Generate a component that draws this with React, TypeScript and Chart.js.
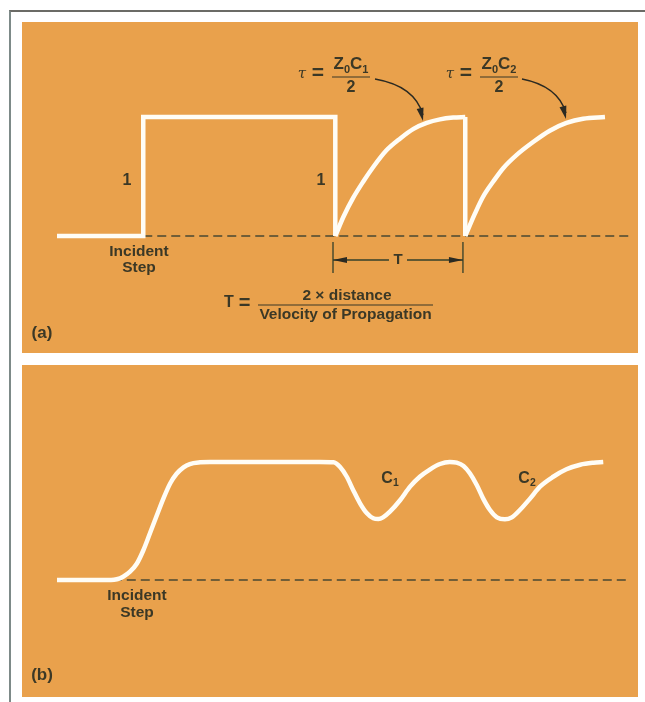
import React, { useEffect, useRef } from "react";
import { Chart, registerables } from "chart.js";

Chart.register(...registerables);

// ---------- Data: panel (a) — incident step and reflections (time 0..100, level 0..1)
const stepX = [0, 15, 15, 48.4, 48.4];
const stepY = [0, 0, 1, 1, 0];
const charge1X = [48.4, 49.8, 51.5, 53.3, 55.0, 57.3, 59.7, 62.0, 64.3, 66.6, 68.9, 71.0];
const charge1Y = [0, 0.16, 0.32, 0.46, 0.58, 0.72, 0.82, 0.9, 0.95, 0.98, 0.995, 1.0];
const drop2X = [71.0, 71.0];
const drop2Y = [1, 0];
const charge2X = [71.0, 72.7, 74.1, 75.9, 77.6, 79.9, 82.8, 85.7, 88.6, 91.5, 95.3];
const charge2Y = [0, 0.19, 0.33, 0.46, 0.57, 0.68, 0.79, 0.885, 0.95, 0.986, 1.0];
const baseAX = [15, 100];
const baseAY = [0, 0];
const tMarks = [48.0, 70.6];

// ---------- Data: panel (b) — TDR display
const tdrX = [
  0, 9.4, 10.4, 11.5, 12.7, 13.9, 15.0, 16.2, 17.3, 18.5, 19.7, 20.8, 22.0, 23.1, 24.9, 26.6,
  45.7, 48.1, 49.2, 50.4, 51.5, 52.7, 53.9, 55.0, 55.9, 56.7, 57.9, 59.7, 61.4, 63.1, 64.9, 66.6, 68.3,
  69.5, 70.7, 71.8, 73.0, 74.1, 75.3, 76.5, 77.9, 79.1, 80.5, 82.3, 84.0, 86.3, 88.6, 91.0, 93.3, 95.0,
];
const tdrY = [
  0, 0, 0.006, 0.028, 0.07, 0.14, 0.25, 0.4, 0.54, 0.69, 0.82, 0.9, 0.955, 0.983, 0.997, 1.0,
  1.0, 0.998, 0.96, 0.875, 0.763, 0.65, 0.565, 0.523, 0.517, 0.531, 0.579, 0.678, 0.791, 0.875, 0.938, 0.983, 1.0,
  0.994, 0.966, 0.904, 0.805, 0.692, 0.593, 0.531, 0.514, 0.531, 0.593, 0.692, 0.791, 0.875, 0.938, 0.977, 0.994, 1.0,
];
const baseBX = [9.7, 99.7];
const baseBY = [0, 0];

const FONT = '"Liberation Sans", Arial, sans-serif';
const INK = "#3b3826";
const ORANGE = "#e9a14c";
const WHITE = "#fffdf6";

const pts = (xs: number[], ys: number[]) => xs.map((x, i) => ({ x, y: ys[i] }));

function txt(ctx: CanvasRenderingContext2D, s: string, x: number, y: number, size: number, align: CanvasTextAlign = "center", weight = "bold", maxW?: number) {
  ctx.font = `${weight} ${size}px ${FONT}`;
  ctx.textAlign = align;
  ctx.textBaseline = "middle";
  ctx.fillStyle = INK;
  if (maxW) ctx.fillText(s, x, y, maxW);
  else ctx.fillText(s, x, y);
}

function rich(ctx: CanvasRenderingContext2D, parts: { t: string; sub?: boolean }[], cx: number, cy: number, size: number) {
  const subSize = size * 0.65;
  let total = 0;
  const ws: number[] = [];
  for (const p of parts) {
    ctx.font = `bold ${p.sub ? subSize : size}px ${FONT}`;
    const w = ctx.measureText(p.t).width;
    ws.push(w);
    total += w;
  }
  let x = cx - total / 2;
  const base = cy + size * 0.36;
  ctx.textAlign = "left";
  ctx.textBaseline = "alphabetic";
  ctx.fillStyle = INK;
  parts.forEach((p, i) => {
    ctx.font = `bold ${p.sub ? subSize : size}px ${FONT}`;
    ctx.fillText(p.t, x, p.sub ? base + size * 0.2 : base);
    x += ws[i];
  });
}

function head(ctx: CanvasRenderingContext2D, x: number, y: number, ang: number, len: number, half: number) {
  ctx.beginPath();
  ctx.moveTo(x, y);
  ctx.lineTo(x - len * Math.cos(ang) + half * Math.sin(ang), y - len * Math.sin(ang) - half * Math.cos(ang));
  ctx.lineTo(x - len * Math.cos(ang) - half * Math.sin(ang), y - len * Math.sin(ang) + half * Math.cos(ang));
  ctx.closePath();
  ctx.fill();
}

function curvedArrow(ctx: CanvasRenderingContext2D, sx: number, sy: number, cx: number, cy: number, ex: number, ey: number) {
  ctx.strokeStyle = "#2b2a22";
  ctx.fillStyle = "#2b2a22";
  ctx.lineWidth = 1.4;
  ctx.beginPath();
  ctx.moveTo(sx, sy);
  ctx.quadraticCurveTo(cx, cy, ex, ey - 6);
  ctx.stroke();
  head(ctx, ex, ey, Math.atan2(ey - cy, ex - cx), 13, 3.5);
}

function tauLabel(ctx: CanvasRenderingContext2D, x: number, y: number, sub: string) {
  ctx.font = `italic 15px "DejaVu Serif", serif`;
  ctx.textAlign = "center";
  ctx.textBaseline = "middle";
  ctx.fillStyle = INK;
  ctx.fillText("τ", x, y + 1);
  txt(ctx, "=", x + 16, y, 21);
  const fx = x + 49;
  rich(ctx, [{ t: "Z" }, { t: "0", sub: true }, { t: "C" }, { t: sub, sub: true }], fx, y - 10, 17);
  ctx.strokeStyle = INK;
  ctx.lineWidth = 1.2;
  ctx.beginPath();
  ctx.moveTo(fx - 19, y + 4);
  ctx.lineTo(fx + 19, y + 4);
  ctx.stroke();
  txt(ctx, "2", fx, y + 15, 16);
}

const bgPlugin = {
  id: "bg",
  beforeDraw(chart: any) {
    const c = chart.ctx;
    c.save();
    c.fillStyle = ORANGE;
    c.fillRect(0, 0, chart.width, chart.height);
    c.restore();
  },
};

const annotA = {
  id: "annotA",
  afterDraw(chart: any) {
    const ctx: CanvasRenderingContext2D = chart.ctx;
    const xs = chart.scales.x;
    ctx.save();
    txt(ctx, "1", 105, 159, 16);
    txt(ctx, "1", 299, 159, 16);
    txt(ctx, "Incident", 117, 230, 15.5);
    txt(ctx, "Step", 117, 246, 15.5);

    // T dimension
    const x1 = xs.getPixelForValue(tMarks[0]);
    const x2 = xs.getPixelForValue(tMarks[1]);
    const mid = (x1 + x2) / 2;
    const ay = 238;
    ctx.strokeStyle = "#34402a";
    ctx.fillStyle = "#2b2a22";
    ctx.lineWidth = 1.3;
    ctx.beginPath();
    ctx.moveTo(x1, 220);
    ctx.lineTo(x1, 251);
    ctx.moveTo(x2, 220);
    ctx.lineTo(x2, 251);
    ctx.moveTo(x1, ay);
    ctx.lineTo(mid - 9, ay);
    ctx.moveTo(mid + 9, ay);
    ctx.lineTo(x2, ay);
    ctx.stroke();
    head(ctx, x1, ay, Math.PI, 14, 3);
    head(ctx, x2, ay, 0, 14, 3);
    txt(ctx, "T", mid, ay, 15);

    // formula
    txt(ctx, "T", 207, 281, 16);
    txt(ctx, "=", 222.5, 281, 20);
    txt(ctx, "2 × distance", 325, 274, 15.5);
    ctx.strokeStyle = INK;
    ctx.lineWidth = 1.2;
    ctx.beginPath();
    ctx.moveTo(236, 283);
    ctx.lineTo(411, 283);
    ctx.stroke();
    txt(ctx, "Velocity of Propagation", 323.5, 293, 15.5, "center", "bold", 176);
    txt(ctx, "(a)", 20, 311, 17);

    // tau labels + arrows
    tauLabel(ctx, 280, 51, "1");
    curvedArrow(ctx, 353, 57, 393, 64, 401, 99);
    tauLabel(ctx, 428, 51, "2");
    curvedArrow(ctx, 500, 57, 536, 64, 544, 97);
    ctx.restore();
  },
};

const annotB = {
  id: "annotB",
  afterDraw(chart: any) {
    const ctx: CanvasRenderingContext2D = chart.ctx;
    ctx.save();
    rich(ctx, [{ t: "C" }, { t: "1", sub: true }], 368, 112, 16);
    rich(ctx, [{ t: "C" }, { t: "2", sub: true }], 505, 112, 16);
    txt(ctx, "Incident", 115, 231, 15.5);
    txt(ctx, "Step", 115, 248, 15.5);
    txt(ctx, "(b)", 20, 310, 17);
    ctx.restore();
  },
};

const whiteLine = (data: any[], smooth: boolean) => ({
  data,
  borderColor: WHITE,
  borderWidth: 4.5,
  pointRadius: 0,
  tension: 0,
  cubicInterpolationMode: smooth ? "monotone" : "default",
  capBezierPoints: false,
  borderJoinStyle: smooth ? "round" : "miter",
  borderCapStyle: "butt",
  clip: false,
  order: 0,
  fill: false,
});

const dashLine = (data: any[]) => ({
  data,
  borderColor: "#4a4832",
  borderWidth: 1.5,
  borderDash: [9, 5],
  pointRadius: 0,
  tension: 0,
  clip: false,
  order: 1,
  fill: false,
});

const baseOptions = (padding: any) => ({
  animation: false,
  responsive: false,
  maintainAspectRatio: false,
  layout: { padding },
  events: [],
  scales: {
    x: { type: "linear", min: 0, max: 100, display: false },
    y: { type: "linear", min: 0, max: 1, display: false },
  },
  plugins: { legend: { display: false }, tooltip: { enabled: false } },
});

export default function App() {
  const refA = useRef<HTMLCanvasElement>(null);
  const refB = useRef<HTMLCanvasElement>(null);

  useEffect(() => {
    const a = new Chart(refA.current as HTMLCanvasElement, {
      type: "line",
      data: {
        datasets: [
          whiteLine(pts(stepX, stepY), false),
          whiteLine(pts(charge1X, charge1Y), true),
          whiteLine(pts(drop2X, drop2Y), false),
          whiteLine(pts(charge2X, charge2Y), true),
          dashLine(pts(baseAX, baseAY)),
        ] as any,
      },
      options: baseOptions({ left: 35, right: 6, top: 95, bottom: 117 }) as any,
      plugins: [bgPlugin, annotA],
    });
    const b = new Chart(refB.current as HTMLCanvasElement, {
      type: "line",
      data: {
        datasets: [whiteLine(pts(tdrX, tdrY), true), dashLine(pts(baseBX, baseBY))] as any,
      },
      options: baseOptions({ left: 35, right: 6, top: 97, bottom: 117 }) as any,
      plugins: [bgPlugin, annotB],
    });
    return () => {
      a.destroy();
      b.destroy();
    };
  }, []);

  return (
    <div style={{ position: "fixed", left: 0, top: 0, width: 645, height: 702, background: "#ffffff", overflow: "hidden" }}>
      <div style={{ position: "absolute", left: 9, top: 10, width: 640, height: 700, borderTop: "2px solid #6b6b66", borderLeft: "2px solid #7d8a88" }} />
      <canvas ref={refA} width={616} height={331} style={{ position: "absolute", left: 22, top: 22, width: 616, height: 331 }} />
      <canvas ref={refB} width={616} height={332} style={{ position: "absolute", left: 22, top: 365, width: 616, height: 332 }} />
    </div>
  );
}
